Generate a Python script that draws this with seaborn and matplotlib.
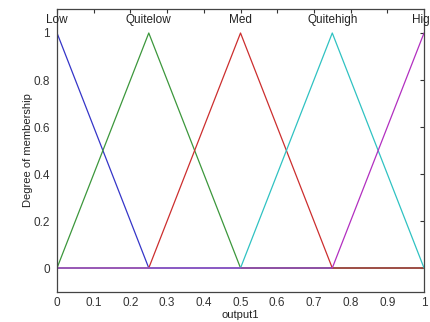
import matplotlib
matplotlib.use("Agg")
import matplotlib.pyplot as plt
import seaborn as sns
import pandas as pd

# membership function names and breakpoints (x, degree)
names = ["Low", "Quitelow", "Med", "Quitehigh", "High"]
xs = [
    [0.0, 0.25, 1.0],
    [0.0, 0.25, 0.5, 1.0],
    [0.0, 0.25, 0.5, 0.75, 1.0],
    [0.0, 0.5, 0.75, 1.0],
    [0.0, 0.75, 1.0],
]
ys = [
    [1, 0, 0],
    [0, 1, 0, 0],
    [0, 0, 1, 0, 0],
    [0, 0, 1, 0],
    [0, 0, 1],
]
peaks = [0.0, 0.25, 0.5, 0.75, 1.0]
xticks = [0, 0.1, 0.2, 0.3, 0.4, 0.5, 0.6, 0.7, 0.8, 0.9, 1]
yticks = [0, 0.2, 0.4, 0.6, 0.8, 1]
colors = ["#3535c8", "#3c973c", "#cc2e2e", "#2fc2c2", "#b22fc0"]

sns.set_style("white")
plt.rcParams["font.family"] = ["Liberation Sans", "DejaVu Sans"]

rows = []
for n, xx, yy in zip(names, xs, ys):
    for a, b in zip(xx, yy):
        rows.append({"mf": n, "x": a, "y": b})
df = pd.DataFrame(rows)

fig = plt.figure(figsize=(4.3, 3.22), dpi=100)
ax = fig.add_axes([0.1326, 0.0947, 0.8535, 0.8758])
sns.lineplot(data=df, x="x", y="y", hue="mf", palette=dict(zip(names, colors)),
             hue_order=names, ax=ax, legend=False, linewidth=0.9, sort=False,
             estimator=None)

ax.set_xlim(0, 1)
ax.set_ylim(-0.1, 1.1)
ax.set_xticks(xticks)
ax.set_xticklabels([f"{t:g}" for t in xticks])
ax.set_yticks(yticks)
ax.set_yticklabels([f"{t:g}" for t in yticks])
ax.tick_params(direction="in", length=3, width=0.8, top=True, right=True,
               labelsize=8.5, colors="#333333", pad=4)
ax.tick_params(axis="y", pad=5)
for s in ax.spines.values():
    s.set_color("#444444")
    s.set_linewidth(0.9)
    s.set_visible(True)

for n, p in zip(names, peaks):
    ax.text(p, 1.028, n, ha="center", va="bottom", fontsize=8.5, color="#222222",
            clip_on=False)

ax.set_xlabel("output1", fontsize=8, labelpad=1, color="#222222")
ax.set_ylabel("Degree of membership", fontsize=8, labelpad=0.5, color="#222222")

fig.savefig("out.png", dpi=100)
